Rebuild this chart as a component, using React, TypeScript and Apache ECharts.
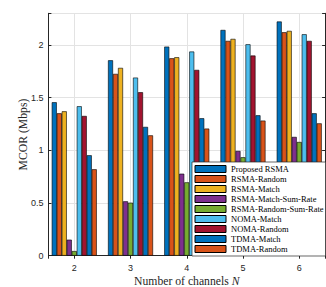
import React, { useEffect, useRef } from "react";
import * as echarts from "echarts";

const channels = [2, 3, 4, 5, 6];
const seriesNames = [
  "Proposed RSMA",
  "RSMA-Random",
  "RSMA-Match",
  "RSMA-Match-Sum-Rate",
  "RSMA-Random-Sum-Rate",
  "NOMA-Match",
  "NOMA-Random",
  "TDMA-Match",
  "TDMA-Random",
];
const seriesColors = [
  "#0072BD",
  "#D95319",
  "#EDB120",
  "#7E2F8E",
  "#77AC30",
  "#4DBEEE",
  "#A2142F",
  "#0072BD",
  "#D95319",
];
const proposedRSMA = [1.456, 1.854, 1.984, 2.142, 2.222];
const rsmaRandom = [1.351, 1.725, 1.873, 2.038, 2.12];
const rsmaMatch = [1.37, 1.782, 1.883, 2.057, 2.133];
const rsmaMatchSumRate = [0.152, 0.516, 0.778, 0.994, 1.127];
const rsmaRandomSumRate = [0.044, 0.503, 0.696, 0.934, 1.079];
const nomaMatch = [1.418, 1.69, 1.937, 2.006, 2.101];
const nomaRandom = [1.326, 1.551, 1.763, 1.899, 2.038];
const tdmaMatch = [0.953, 1.222, 1.304, 1.332, 1.351];
const tdmaRandom = [0.82, 1.142, 1.206, 1.282, 1.256];
const yTicks = [0, 0.5, 1, 1.5, 2];

const allValues = [
  proposedRSMA,
  rsmaRandom,
  rsmaMatch,
  rsmaMatchSumRate,
  rsmaRandomSumRate,
  nomaMatch,
  nomaRandom,
  tdmaMatch,
  tdmaRandom,
];

const SANS = "'Liberation Sans', Arial, Helvetica, sans-serif";
const SERIF = "'Liberation Serif', 'Times New Roman', serif";
const AXIS_COLOR = "#262626";

export default function App() {
  const ref = useRef<HTMLDivElement>(null);
  useEffect(() => {
    if (!ref.current) return;
    const chart = echarts.init(ref.current, undefined, { renderer: "svg" });
    const xCommon = {
      type: "value" as const,
      min: 1.54,
      max: 6.46,
      axisLine: { show: true, lineStyle: { color: AXIS_COLOR, width: 1 } },
      axisTick: { show: true, inside: true, length: 3, lineStyle: { color: AXIS_COLOR } },
    };
    const yCommon = {
      type: "value" as const,
      min: 0,
      max: 2.3,
      interval: 0.5,
      axisLine: { show: true, lineStyle: { color: AXIS_COLOR, width: 1 } },
      axisTick: { show: true, inside: true, length: 3, lineStyle: { color: AXIS_COLOR } },
    };
    const option: any = {
      animation: false,
      grid: {
        left: 48.4,
        right: 0.9,
        top: 13.3,
        bottom: 31.3,
        containLabel: false,
        outerBoundsMode: "none",
      },
      legend: {
        show: true,
        orient: "vertical",
        left: 192,
        top: 162,
        padding: [2, 2, 2, 2.5],
        itemGap: 0,
        itemWidth: 31,
        itemHeight: 7,
        icon: "rect",
        backgroundColor: "#ffffff",
        borderColor: AXIS_COLOR,
        borderWidth: 0.7,
        borderRadius: 0,
        textStyle: { fontFamily: SERIF, fontSize: 8.5, color: "#000", lineHeight: 10 },
        itemStyle: { borderColor: "#000", borderWidth: 1 },
        data: seriesNames,
      },
      xAxis: [
        {
          ...xCommon,
          position: "bottom",
          name: "Number of channels {i|N}",
          nameLocation: "middle",
          nameGap: 20,
          nameMoveOverlap: false,
          nameTextStyle: {
            fontFamily: SERIF,
            fontSize: 11.7,
            color: AXIS_COLOR,
            rich: { i: { fontFamily: SERIF, fontSize: 11.7, fontStyle: "italic", color: AXIS_COLOR } },
          },
          axisLabel: {
            fontFamily: SANS,
            fontSize: 9,
            color: AXIS_COLOR,
            margin: 8,
            formatter: (v: number) =>
              channels.some((c) => Math.abs(c - v) < 1e-9) ? String(Math.round(v)) : "",
          },
          splitLine: { show: true, lineStyle: { color: "#e3e3e3", width: 1 } },
        },
        {
          ...xCommon,
          position: "top",
          axisLabel: { show: false },
          splitLine: { show: false },
        },
      ],
      yAxis: [
        {
          ...yCommon,
          position: "left",
          name: "MCOR (Mbps)",
          nameLocation: "middle",
          nameGap: 19,
          nameMoveOverlap: false,
          nameTextStyle: { fontFamily: SERIF, fontSize: 11.7, color: AXIS_COLOR },
          axisLabel: {
            fontFamily: SANS,
            fontSize: 9,
            color: AXIS_COLOR,
            margin: 5,
            formatter: (v: number) =>
              yTicks.some((t) => Math.abs(t - v) < 1e-9) ? String(v) : "",
          },
          splitLine: { show: true, lineStyle: { color: "#e3e3e3", width: 1 } },
        },
        {
          ...yCommon,
          position: "right",
          axisLabel: { show: false },
          splitLine: { show: false },
        },
      ],
      series: seriesNames.map((name, i) => ({
        name,
        type: "bar",
        xAxisIndex: 0,
        yAxisIndex: 0,
        barGap: "0%",
        barCategoryGap: "20%",
        itemStyle: { color: seriesColors[i], borderColor: "#000", borderWidth: 0.6 },
        data: channels.map((c, k) => [c, allValues[i][k]]),
      })),
    };
    chart.setOption(option);
    return () => chart.dispose();
  }, []);
  return (
    <div
      ref={ref}
      style={{ position: "absolute", left: 0, top: 0, width: 326, height: 287, background: "#fff" }}
    />
  );
}
